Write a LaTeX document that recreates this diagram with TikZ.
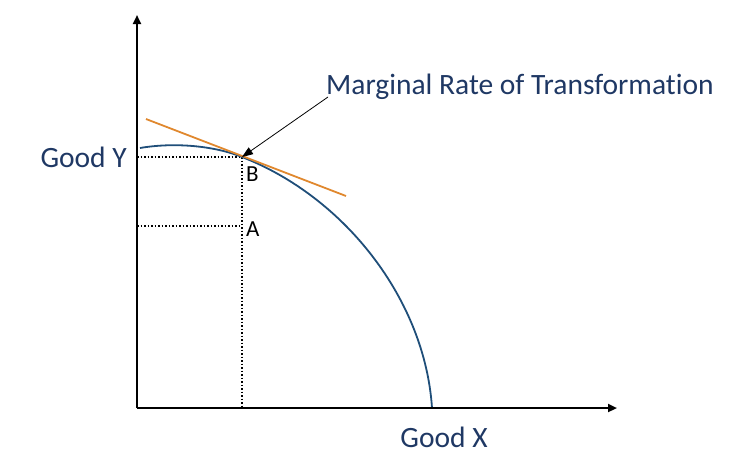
\documentclass[tikz,border=0pt]{standalone}
\usepackage{fontspec}
\setmainfont{Carlito}[Ligatures=NoCommon]
\usetikzlibrary{arrows.meta}
\definecolor{navy}{HTML}{1F3864}
\definecolor{curveblue}{HTML}{1F4E79}
\definecolor{tanorange}{HTML}{E0882E}
\tikzset{
  axis/.style={line width=2.2pt,-{Triangle[length=9pt,width=8pt]}},
  guide/.style={dotted,line width=1.5pt},
  lbl/.style={text=navy,font=\fontsize{29.5}{34}\selectfont,inner sep=0pt},
  pt/.style={text=black,font=\fontsize{23}{26}\selectfont,inner sep=0pt}
}
\begin{document}
\begin{tikzpicture}[x=1pt,y=-1pt]
\useasboundingbox (0,0) rectangle (753,464);
\coordinate (O) at (137,408);
\coordinate (ytop) at (137,15);
\coordinate (xend) at (617,408);
\coordinate (B) at (242,157);
\coordinate (A) at (242,226);
\coordinate (By) at (137,157);
\coordinate (Ay) at (137,226);
\coordinate (Bx) at (242,408);
\coordinate (cs) at (140,148);
\coordinate (ce) at (432,408);
\coordinate (t1) at (146,119);
\coordinate (t2) at (346,196);
% guides
\draw[guide] (By) -- (B);
\draw[guide] (Ay) -- (A);
\draw[guide] (B) -- (Bx);
% curve
\draw[curveblue,line width=1.8pt] (cs) .. controls (175,142) and (215,146) .. (B)
  .. controls (345,197) and (425,300) .. (ce);
% tangent
\draw[tanorange,line width=1.8pt] (t1) -- (t2);
% axes
\draw[axis] (O) -- (ytop);
\draw[axis] (O) -- (xend);
% labels
\node[lbl,anchor=east] (gy) at (127,157) {Good Y};
\node[lbl] (gx) at (444,437) {Good X};
\node[pt,anchor=west] (lb) at (246,174) {B};
\node[pt,anchor=west] (la) at (246,229) {A};
\node[lbl,anchor=west] (mrt) at (326,87) {Marginal Rate of Transformation};
\coordinate (mstart) at (328,97);
\draw[line width=0.8pt,-{Triangle[length=11pt,width=8pt]}] (mstart) -- (B);
\end{tikzpicture}
\end{document}
